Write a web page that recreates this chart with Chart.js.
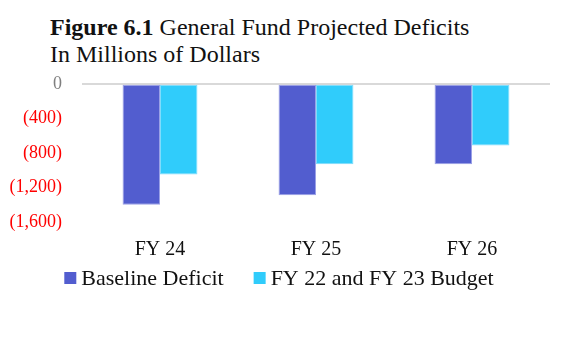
<!DOCTYPE html>
<html>
<head>
<meta charset="utf-8">
<script src="https://cdn.jsdelivr.net/npm/chart.js@4/dist/chart.umd.min.js"></script>
<style>
  body { margin: 0; background: #fff; width: 584px; height: 338px; position: relative; overflow: hidden; }
  .title { position: absolute; left: 50px; top: 14px; font-family: "Liberation Serif", serif; font-size: 24px; line-height: 27px; color: #111; }
  .title b { font-weight: bold; }
  .wrap { position: absolute; left: 0; top: 53px; width: 558px; height: 285px; }
</style>
</head>
<body>
<div class="title"><b>Figure 6.1</b> General Fund Projected Deficits<br>In Millions of Dollars</div>
<div class="wrap"><canvas id="chart"></canvas></div>
<script>
var years = ['FY 24', 'FY 25', 'FY 26'];
var baselineDeficit = [-1400, -1290, -930];
var budgetDeficit = [-1050, -930, -715];
var seriesNames = ['Baseline Deficit', 'FY 22 and FY 23 Budget'];

var serif = 'Liberation Serif';

// legend drawn by hand so the item gap can differ from the row padding
var bottomLegend = {
    id: 'bottomLegend',
    afterDraw(chart) {
        var c = chart.ctx;
        var box = 12, gap = 5, between = 30;
        c.save();
        c.font = '22px "' + serif + '"';
        c.textBaseline = 'middle';
        var items = chart.data.datasets.map(ds => ({
            text: ds.label,
            color: ds.backgroundColor,
            w: box + gap + c.measureText(ds.label).width
        }));
        var total = items.reduce((a, it) => a + it.w, 0) + between * (items.length - 1);
        var x = chart.width / 2 - total / 2;
        var y = 225;
        items.forEach(it => {
            c.fillStyle = it.color;
            c.fillRect(x, y - box / 2, box, box);
            c.fillStyle = '#111';
            c.fillText(it.text, x + box + gap, y + 1);
            x += it.w + between;
        });
        c.restore();
    }
};

window.addEventListener('DOMContentLoaded', () => {
    var ctx = document.getElementById('chart').getContext('2d');
    new Chart(ctx, {
        type: 'bar',
        data: {
            labels: years,
            datasets: [{
                label: seriesNames[0],
                data: baselineDeficit,
                backgroundColor: '#525dcf',
                borderColor: '#9aa0e6',
                borderWidth: 1,
                borderSkipped: false
            }, {
                label: seriesNames[1],
                data: budgetDeficit,
                backgroundColor: '#30ccfb',
                borderColor: '#7fdcfc',
                borderWidth: 1,
                borderSkipped: false
            }]
        },
        options: {
            animation: false,
            responsive: true,
            maintainAspectRatio: false,
            layout: { padding: { left: 0, right: 8, top: 0, bottom: 68 } },
            datasets: { bar: { categoryPercentage: 0.48, barPercentage: 1 } },
            plugins: {
                tooltip: { enabled: false },
                legend: { display: false }
            },
            scales: {
                x: {
                    grid: { display: false },
                    border: { display: false },
                    ticks: {
                        color: '#111',
                        padding: 8,
                        font: { family: serif, size: 20 }
                    }
                },
                y: {
                    min: -1600,
                    max: 0,
                    border: { display: false },
                    grid: {
                        drawTicks: false,
                        lineWidth: 2,
                        color: c => c.tick && c.tick.value === 0 ? '#d9d9d9' : 'rgba(0,0,0,0)'
                    },
                    ticks: {
                        stepSize: 400,
                        autoSkip: false,
                        padding: 20,
                        color: c => c.tick.value === 0 ? '#7f7f7f' : '#ff0000',
                        font: { family: serif, size: 18 },
                        callback: v => v === 0 ? '0' : '(' + Math.abs(v).toLocaleString('en-US') + ')'
                    },
                    afterFit: s => { s.width = 82; }
                }
            }
        },
        plugins: [bottomLegend]
    });
})
</script>
</body>
</html>
